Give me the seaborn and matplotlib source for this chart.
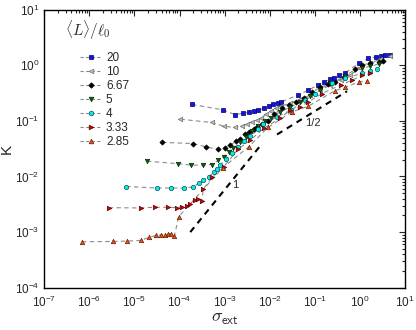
import matplotlib
matplotlib.use("Agg")
import matplotlib.pyplot as plt
from matplotlib.lines import Line2D
import seaborn as sns

# series values (sigma_ext, K)
x_20 = [1.9e-4, 9.1e-4, 1.66e-3, 2.6e-3, 3.4e-3, 4.4e-3, 5.6e-3, 7.3e-3, 9.4e-3, 1.2e-2, 1.5e-2, 1.8e-2,
        4.2e-2, 7.2e-2, 0.115, 0.16, 0.22, 0.27, 0.35, 0.47, 0.93, 1.5, 2.3, 2.9, 3.6, 4.5]
k_20 = [0.197, 0.158, 0.130, 0.136, 0.142, 0.149, 0.156, 0.167, 0.184, 0.20, 0.21, 0.22,
        0.29, 0.356, 0.44, 0.50, 0.56, 0.60, 0.66, 0.73, 1.08, 1.32, 1.42, 1.48, 1.52, 1.52]

x_10 = [1.05e-4, 5.2e-4, 9.6e-4, 1.7e-3, 2.4e-3, 3.1e-3, 4.0e-3, 5.2e-3, 6.5e-3, 8.3e-3, 1.08e-2, 1.4e-2,
        1.8e-2, 2.85e-2, 4.7e-2, 7.9e-2, 0.13, 0.22, 0.37, 0.61, 1.0, 1.7, 2.8, 4.7]
k_10 = [0.107, 0.0935, 0.080, 0.076, 0.081, 0.086, 0.096, 0.103, 0.113, 0.132, 0.15, 0.17,
        0.184, 0.208, 0.245, 0.29, 0.356, 0.44, 0.54, 0.66, 0.89, 1.09, 1.29, 1.46]

x_667 = [4.1e-5, 2.0e-4, 3.9e-4, 7.1e-4, 1.0e-3, 1.33e-3, 1.8e-3, 2.2e-3, 2.8e-3, 3.4e-3, 4.4e-3, 5.2e-3,
         6.8e-3, 9.3e-3, 1.26e-2, 1.86e-2, 2.6e-2, 3.8e-2, 5.6e-2, 8.7e-2, 0.13, 0.20, 0.28, 0.43,
         0.79, 1.1, 1.7, 2.6, 3.3]
k_667 = [0.041, 0.039, 0.034, 0.0306, 0.0327, 0.0366, 0.043, 0.048, 0.057, 0.063, 0.070, 0.078,
         0.087, 0.099, 0.132, 0.168, 0.19, 0.22, 0.253, 0.328, 0.40, 0.457, 0.50, 0.61,
         0.85, 1.0, 1.10, 1.15, 1.2]

x_5 = [1.9e-5, 9.3e-5, 1.8e-4, 3.35e-4, 5.2e-4, 7.3e-4, 9.5e-4, 1.22e-3, 1.57e-3, 2.2e-3, 3.0e-3, 4.1e-3,
       5.6e-3, 7.9e-3, 1.08e-2, 1.7e-2, 2.85e-2, 4.7e-2, 7.9e-2, 0.13, 0.22, 0.47, 1.1, 1.7, 2.6]
k_5 = [0.0188, 0.017, 0.016, 0.016, 0.0164, 0.0196, 0.0225, 0.0277, 0.0319, 0.0414, 0.051, 0.065,
       0.080, 0.099, 0.114, 0.144, 0.177, 0.217, 0.279, 0.356, 0.48, 0.63, 0.875, 0.96, 1.05]

x_4 = [6.6e-6, 3.25e-5, 6.5e-5, 1.27e-4, 1.98e-4, 2.64e-4, 3.4e-4, 4.4e-4, 5.7e-4, 6.7e-4, 8.0e-4, 1.08e-3,
       1.47e-3, 2.0e-3, 2.7e-3, 3.7e-3, 5.5e-3, 7.2e-3, 1.44e-2, 3.0e-2, 6.1e-2, 0.102, 0.24, 0.47,
       1.1, 1.7, 2.4]
k_4 = [6.6e-3, 6.2e-3, 6.2e-3, 6.2e-3, 6.5e-3, 7.5e-3, 8.6e-3, 9.8e-3, 1.18e-2, 1.39e-2, 1.6e-2, 2.05e-2,
       0.026, 0.034, 0.043, 0.053, 0.070, 0.087, 0.118, 0.156, 0.235, 0.31, 0.47, 0.59,
       0.71, 0.79, 0.84]

x_333 = [2.7e-6, 1.39e-5, 2.8e-5, 5.7e-5, 8.7e-5, 1.13e-4, 1.44e-4, 1.73e-4, 2.17e-4, 2.6e-4, 3.1e-4, 3.4e-4,
         5.3e-4, 9.5e-4, 2.0e-3, 3.7e-3, 7.3e-3, 1.7e-2, 2.85e-2, 4.7e-2, 7.2e-2, 0.144, 0.37, 0.67,
         1.1, 1.7]
k_333 = [2.75e-3, 2.72e-3, 2.8e-3, 2.8e-3, 2.75e-3, 2.86e-3, 3.0e-3, 3.15e-3, 3.75e-3, 4.0e-3, 3.7e-3, 6.0e-3,
         9.7e-3, 1.49e-2, 0.031, 0.045, 0.073, 0.112, 0.156, 0.179, 0.22, 0.31, 0.44, 0.54,
         0.66, 0.71]

x_285 = [6.9e-7, 3.4e-6, 6.8e-6, 1.39e-5, 2.16e-5, 3.0e-5, 3.9e-5, 4.75e-5, 5.7e-5, 6.5e-5, 7.7e-5, 9.6e-5,
         9.2e-4, 3.4e-3, 9.1e-3, 3.1e-2, 7.2e-2, 0.28, 0.47, 0.93, 1.43]
k_285 = [6.7e-4, 6.8e-4, 6.9e-4, 7.1e-4, 8.1e-4, 8.7e-4, 8.8e-4, 8.9e-4, 9.1e-4, 9.4e-4, 8.5e-4, 1.9e-3,
         1.45e-2, 0.034, 0.076, 0.145, 0.184, 0.35, 0.40, 0.50, 0.52]

labels = ["20", "10", "6.67", "5", "4", "3.33", "2.85"]

# guide lines (slope 1 and slope 1/2)
slope1_x = [1.73e-4, 6.8e-3]
slope1_k = [1.0e-3, 3.93e-2]
slope_half_x = [1.45e-2, 0.515]
slope_half_k = [0.0569, 0.34]

series = [
    (x_20, k_20, "s", "#1414e0", "#00006a"),
    (x_10, k_10, "<", "#c0c0c0", "#6e6e6e"),
    (x_667, k_667, "D", "#000000", "#000000"),
    (x_5, k_5, "v", "#0a640a", "#002800"),
    (x_4, k_4, "o", "#10e8e8", "#005a5a"),
    (x_333, k_333, ">", "#d80000", "#500000"),
    (x_285, k_285, "^", "#ff4a10", "#602000"),
]

sns.set_style("white")
plt.rcParams["font.family"] = ["Liberation Sans", "DejaVu Sans"]
plt.rcParams["mathtext.fontset"] = "cm"

fig = plt.figure(figsize=(4.16, 3.30), dpi=100)
ax = fig.add_axes([0.106, 0.128, 0.868, 0.843])

for xs, ks, m, fc, ec in series:
    sns.lineplot(x=xs, y=ks, ax=ax, color="#8c8c8c", linestyle=(0, (4, 3)), linewidth=0.8,
                 sort=False, estimator=None, legend=False, zorder=2)
    sns.scatterplot(x=xs, y=ks, ax=ax, marker=m, color=fc, edgecolor=ec, linewidth=0.5,
                    s=10 if m != "D" else 7, legend=False, zorder=3)

sns.lineplot(x=slope1_x, y=slope1_k, ax=ax, color="black", linestyle=(0, (3, 2.5)), linewidth=1.5,
             estimator=None, legend=False, zorder=1)
sns.lineplot(x=slope_half_x, y=slope_half_k, ax=ax, color="black", linestyle=(0, (3, 2.5)), linewidth=1.5,
             estimator=None, legend=False, zorder=1)
ax.text(1.75e-3, 7.0e-3, "1", fontsize=8, ha="center", va="center")
ax.text(9.2e-2, 0.091, "1/2", fontsize=8, ha="center", va="center")

ax.set_xscale("log")
ax.set_yscale("log")
ax.set_xlim(1e-7, 1e1)
ax.set_ylim(1e-4, 1e1)
ax.set_xticks([10.0 ** e for e in range(-7, 2)])
ax.set_yticks([10.0 ** e for e in range(-4, 2)])
ax.tick_params(which="both", direction="in", top=True, right=True, labelsize=8.5, width=0.8)
ax.tick_params(which="major", length=4)
ax.tick_params(which="minor", length=2)
ax.tick_params(axis="x", which="major", pad=5)
for sp in ax.spines.values():
    sp.set_color("black")
    sp.set_linewidth(1.0)

ax.set_xlabel(r"$\sigma_{\mathsf{ext}}$", fontsize=13, labelpad=0)
ax.set_ylabel("K", fontsize=11)
ax.yaxis.set_label_coords(-0.085, 0.5)

handles = [Line2D([], [], color="#8c8c8c", linestyle=(0, (3, 2)), linewidth=0.8, marker=m,
                  markerfacecolor=fc, markeredgecolor=ec, markeredgewidth=0.5,
                  markersize=3.3 if m != "D" else 2.8)
           for _, _, m, fc, ec in series]
ax.legend(handles, labels, loc="upper left", bbox_to_anchor=(0.083, 0.868), frameon=False,
          fontsize=8.5, handlelength=1.9, handletextpad=0.3, labelspacing=0.17, borderpad=0)
ax.text(0.058, 0.926, r"$\langle L\rangle/\ell_0$", transform=ax.transAxes, fontsize=11,
        ha="left", va="center")

fig.savefig("out.png", dpi=100)
